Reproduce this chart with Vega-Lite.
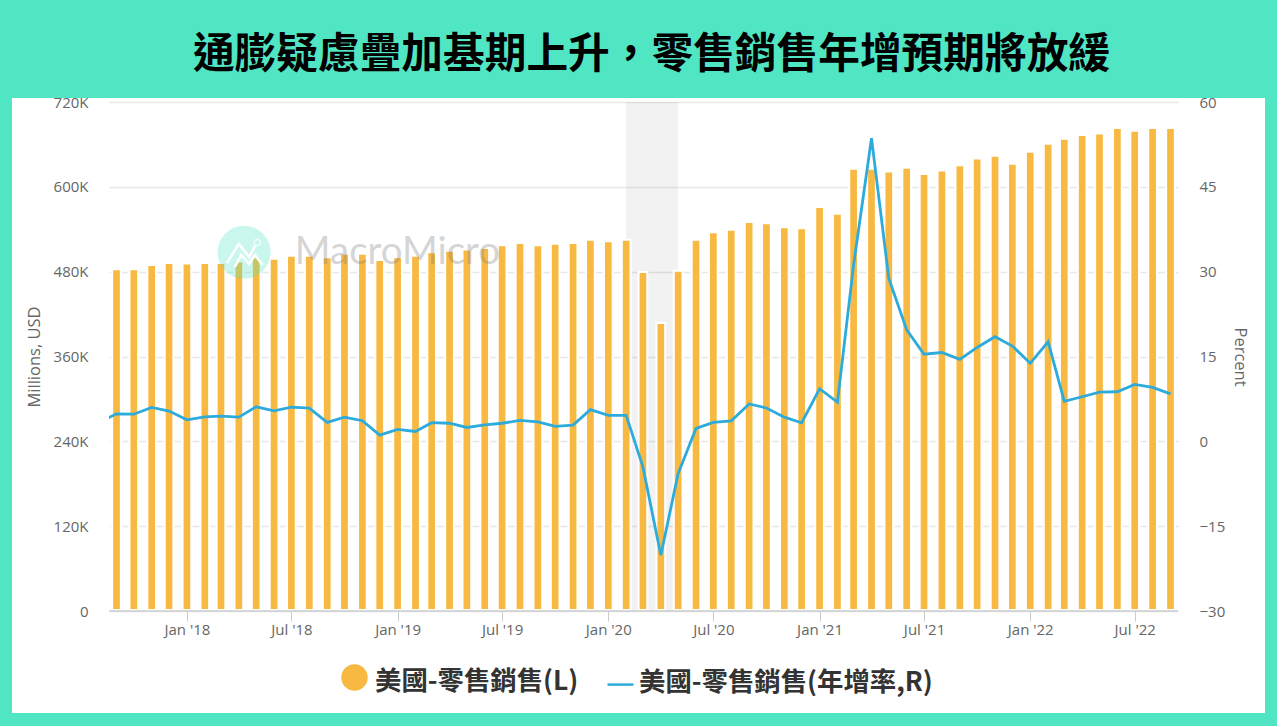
{
"$schema":"https://vega.github.io/schema/vega-lite/v6.json",
"autosize":{"type":"none"},
"width":1069,"height":509,
"padding":{"left":109,"top":102,"right":105,"bottom":116},
"background":"#ffffff",
"title":{"text":"通膨疑慮疊加基期上升，零售銷售年增預期將放緩","font":"Noto Sans CJK TC","fontSize":41.7,"fontWeight":"bold","color":"#000000","anchor":"middle","dx":8,"baseline":"alphabetic","offset":-110,"zindex":1},
"config":{"view":{"stroke":null},"scale":{"continuousPadding":0},"axis":{"labelFont":"Open Sans","titleFont":"Open Sans","labelFontSize":15,"titleFontSize":16.5,"labelColor":"#666666","titleColor":"#666666","titleFontWeight":"normal"}},
"datasets":{
"retail":[
{"date":"2017-08-01T00:00:00","yoy":3.3},
{"date":"2017-09-01T00:00:00","retail":482000,"yoy":4.87},
{"date":"2017-10-01T00:00:00","retail":482000,"yoy":4.8},
{"date":"2017-11-01T00:00:00","retail":488000,"yoy":6.0},
{"date":"2017-12-01T00:00:00","retail":491000,"yoy":5.35},
{"date":"2018-01-01T00:00:00","retail":490000,"yoy":3.8},
{"date":"2018-02-01T00:00:00","retail":491000,"yoy":4.34},
{"date":"2018-03-01T00:00:00","retail":491000,"yoy":4.46},
{"date":"2018-04-01T00:00:00","retail":493000,"yoy":4.28},
{"date":"2018-05-01T00:00:00","retail":499000,"yoy":6.1},
{"date":"2018-06-01T00:00:00","retail":497000,"yoy":5.4},
{"date":"2018-07-01T00:00:00","retail":501000,"yoy":6.05},
{"date":"2018-08-01T00:00:00","retail":501000,"yoy":5.88},
{"date":"2018-09-01T00:00:00","retail":499000,"yoy":3.34},
{"date":"2018-10-01T00:00:00","retail":504000,"yoy":4.28},
{"date":"2018-11-01T00:00:00","retail":504000,"yoy":3.64},
{"date":"2018-12-01T00:00:00","retail":495000,"yoy":1.1},
{"date":"2019-01-01T00:00:00","retail":499000,"yoy":2.1},
{"date":"2019-02-01T00:00:00","retail":501000,"yoy":1.75},
{"date":"2019-03-01T00:00:00","retail":506000,"yoy":3.3},
{"date":"2019-04-01T00:00:00","retail":508000,"yoy":3.2},
{"date":"2019-05-01T00:00:00","retail":510000,"yoy":2.45},
{"date":"2019-06-01T00:00:00","retail":512000,"yoy":2.9},
{"date":"2019-07-01T00:00:00","retail":516000,"yoy":3.2},
{"date":"2019-08-01T00:00:00","retail":519000,"yoy":3.7},
{"date":"2019-09-01T00:00:00","retail":516000,"yoy":3.45},
{"date":"2019-10-01T00:00:00","retail":518000,"yoy":2.63},
{"date":"2019-11-01T00:00:00","retail":519000,"yoy":2.87},
{"date":"2019-12-01T00:00:00","retail":523600,"yoy":5.6},
{"date":"2020-01-01T00:00:00","retail":521700,"yoy":4.6},
{"date":"2020-02-01T00:00:00","retail":523600,"yoy":4.6},
{"date":"2020-03-01T00:00:00","retail":478000,"yoy":-4.5},
{"date":"2020-04-01T00:00:00","retail":406000,"yoy":-20.15},
{"date":"2020-05-01T00:00:00","retail":480000,"yoy":-5.7},
{"date":"2020-06-01T00:00:00","retail":523600,"yoy":2.28},
{"date":"2020-07-01T00:00:00","retail":534500,"yoy":3.34},
{"date":"2020-08-01T00:00:00","retail":538000,"yoy":3.63},
{"date":"2020-09-01T00:00:00","retail":549000,"yoy":6.6},
{"date":"2020-10-01T00:00:00","retail":547000,"yoy":5.9},
{"date":"2020-11-01T00:00:00","retail":541500,"yoy":4.28},
{"date":"2020-12-01T00:00:00","retail":540000,"yoy":3.28},
{"date":"2021-01-01T00:00:00","retail":570000,"yoy":9.3},
{"date":"2021-02-01T00:00:00","retail":560400,"yoy":6.94},
{"date":"2021-03-01T00:00:00","retail":624000,"yoy":31.2},
{"date":"2021-04-01T00:00:00","retail":624000,"yoy":53.6},
{"date":"2021-05-01T00:00:00","retail":620300,"yoy":28.8},
{"date":"2021-06-01T00:00:00","retail":625500,"yoy":19.7},
{"date":"2021-07-01T00:00:00","retail":616600,"yoy":15.4},
{"date":"2021-08-01T00:00:00","retail":621800,"yoy":15.7},
{"date":"2021-09-01T00:00:00","retail":629000,"yoy":14.5},
{"date":"2021-10-01T00:00:00","retail":638800,"yoy":16.6},
{"date":"2021-11-01T00:00:00","retail":642600,"yoy":18.5},
{"date":"2021-12-01T00:00:00","retail":631200,"yoy":16.85},
{"date":"2022-01-01T00:00:00","retail":648200,"yoy":13.8},
{"date":"2022-02-01T00:00:00","retail":659500,"yoy":17.6},
{"date":"2022-03-01T00:00:00","retail":666600,"yoy":7.06},
{"date":"2022-04-01T00:00:00","retail":672000,"yoy":7.88},
{"date":"2022-05-01T00:00:00","retail":674000,"yoy":8.7},
{"date":"2022-06-01T00:00:00","retail":681700,"yoy":8.77},
{"date":"2022-07-01T00:00:00","retail":678000,"yoy":10.07},
{"date":"2022-08-01T00:00:00","retail":681700,"yoy":9.54},
{"date":"2022-09-01T00:00:00","retail":681700,"yoy":8.4}
],
"recession":[{"start":"2020-02-01T00:00:00","end":"2020-05-01T00:00:00"}],
"logo":[
{"date":"2018-03-11T00:00:00","value":492000,"part":"a"},
{"date":"2018-04-01T00:00:00","value":519300,"part":"a"},
{"date":"2018-04-19T00:00:00","value":500500,"part":"a"},
{"date":"2018-04-29T00:00:00","value":516500,"part":"a"},
{"date":"2018-03-25T00:00:00","value":486800,"part":"b"},
{"date":"2018-04-05T00:00:00","value":503700,"part":"b"},
{"date":"2018-04-19T00:00:00","value":491000,"part":"b"},
{"date":"2018-04-29T00:00:00","value":503700,"part":"b"},
{"date":"2018-05-12T00:00:00","value":489600,"part":"b"}
],
"disc":[{"date":"2018-04-10T00:00:00","value":507600}],
"ring":[{"date":"2018-05-03T00:00:00","value":521200}],
"brand":[{"date":"2018-07-07T00:00:00","value":491000,"name":"MacroMicro"}],
"frame":[{"part":"frame"}]
},
"resolve":{"scale":{"y":"independent"},"axis":{"y":"independent"}},
"layer":[
{"data":{"name":"recession"},"mark":{"type":"rect","color":"#000000","opacity":0.05},
 "encoding":{"x":{"field":"start","type":"temporal","scale":{"padding":0,"domain":[{"year":2017,"month":8,"date":19},{"year":2022,"month":9,"date":14}]},"axis":{"title":null}},"x2":{"field":"end"}}},
{"data":{"name":"retail"},"mark":{"type":"bar","size":8.7,"stroke":"#ffffff","strokeWidth":2,"yOffset":-1},
 "encoding":{
  "x":{"field":"date","type":"temporal","scale":{"padding":0,"domain":[{"year":2017,"month":8,"date":19},{"year":2022,"month":9,"date":14}]},
   "axis":{"title":null,"format":"%b '%y","labelOverlap":false,"grid":false,"domain":false,"tickColor":"#cccccc","tickSize":10,"labelPadding":1,"labelFlush":false,
    "values":[{"year":2018,"month":1,"date":1},{"year":2018,"month":7,"date":1},{"year":2019,"month":1,"date":1},{"year":2019,"month":7,"date":1},{"year":2020,"month":1,"date":1},{"year":2020,"month":7,"date":1},{"year":2021,"month":1,"date":1},{"year":2021,"month":7,"date":1},{"year":2022,"month":1,"date":1},{"year":2022,"month":7,"date":1}]}},
  "y":{"field":"retail","type":"quantitative","scale":{"domain":[0,720000],"nice":false},
   "axis":{"title":"Millions, USD","values":[0,120000,240000,360000,480000,600000,720000],"labelExpr":"datum.value==0?'0':(datum.value/1000)+'K'","domain":false,"ticks":false,"labelPadding":21,"grid":true,"gridColor":"#e8e8e8","gridWidth":1.5,"titlePadding":11}},
  "fill":{"datum":"美國-零售銷售(L)","scale":{"range":["#f7b941"]},
   "legend":{"orient":"none","legendX":232,"legendY":566,"title":null,"symbolType":"M -1,-0.3 a 1 1 0 1 0 2 0 a 1 1 0 1 0 -2 0 Z","symbolSize":700,"symbolStrokeWidth":0,"labelFont":"Noto Sans CJK TC","labelFontWeight":"bold","labelFontSize":26.4,"labelColor":"#333333","labelLimit":600,"labelOffset":7}}
 }},
{"data":{"name":"frame"},"mark":{"type":"rule","color":"#cccccc","strokeWidth":1.5},
 "encoding":{"y":{"datum":0,"type":"quantitative","scale":{"domain":[0,720000],"nice":false},"axis":null}}},
{"data":{"name":"retail"},"mark":{"type":"line","strokeWidth":2.8,"clip":true},
 "encoding":{
  "x":{"field":"date","type":"temporal","scale":{"padding":0,"domain":[{"year":2017,"month":8,"date":19},{"year":2022,"month":9,"date":14}]},"axis":{"title":null}},
  "y":{"field":"yoy","type":"quantitative","scale":{"domain":[-30,60],"nice":false},
   "axis":{"title":"Percent","orient":"right","values":[-30,-15,0,15,30,45,60],"domain":false,"ticks":false,"grid":false,"labelPadding":21,"titlePadding":7}},
  "stroke":{"datum":"美國-零售銷售(年增率,R)","scale":{"range":["#2dabdc"]},
   "legend":{"orient":"none","legendX":497,"legendY":566,"title":null,"symbolType":"M -1,0.16 L 1,0.16","symbolSize":676,"symbolStrokeWidth":2.5,"labelFont":"Noto Sans CJK TC","labelFontWeight":"bold","labelFontSize":26.4,"labelColor":"#333333","labelLimit":600,"labelOffset":4}}
 }},
{"data":{"name":"disc"},"mark":{"type":"point","filled":true,"size":2809,"color":"#50e6c3","opacity":0.3},
 "encoding":{"x":{"field":"date","type":"temporal","scale":{"padding":0,"domain":[{"year":2017,"month":8,"date":19},{"year":2022,"month":9,"date":14}]},"axis":{"title":null}},"y":{"field":"value","type":"quantitative","scale":{"domain":[0,720000],"nice":false},"axis":null}}},
{"data":{"name":"logo"},"mark":{"type":"line","color":"#ffffff","strokeWidth":2.5},
 "encoding":{"x":{"field":"date","type":"temporal","scale":{"padding":0,"domain":[{"year":2017,"month":8,"date":19},{"year":2022,"month":9,"date":14}]},"axis":{"title":null}},"y":{"field":"value","type":"quantitative","scale":{"domain":[0,720000],"nice":false},"axis":null},"detail":{"field":"part"}}},
{"data":{"name":"ring"},"mark":{"type":"point","size":40,"color":"#ffffff","strokeWidth":1.5},
 "encoding":{"x":{"field":"date","type":"temporal","scale":{"padding":0,"domain":[{"year":2017,"month":8,"date":19},{"year":2022,"month":9,"date":14}]},"axis":{"title":null}},"y":{"field":"value","type":"quantitative","scale":{"domain":[0,720000],"nice":false},"axis":null}}},
{"data":{"name":"brand"},"mark":{"type":"text","font":"Lato","fontSize":38.5,"align":"left","baseline":"alphabetic","color":"#777777","opacity":0.3},
 "encoding":{"x":{"field":"date","type":"temporal","scale":{"padding":0,"domain":[{"year":2017,"month":8,"date":19},{"year":2022,"month":9,"date":14}]},"axis":{"title":null}},"y":{"field":"value","type":"quantitative","scale":{"domain":[0,720000],"nice":false},"axis":null},"text":{"field":"name"}}},
{"data":{"name":"frame"},"mark":{"type":"rect","color":"#50e6c3"},"encoding":{"x":{"value":-109},"x2":{"value":1168},"y":{"value":-102},"y2":{"value":-4}}},
{"data":{"name":"frame"},"mark":{"type":"rect","color":"#50e6c3"},"encoding":{"x":{"value":-109},"x2":{"value":-97},"y":{"value":-102},"y2":{"value":624}}},
{"data":{"name":"frame"},"mark":{"type":"rect","color":"#50e6c3"},"encoding":{"x":{"value":1156},"x2":{"value":1168},"y":{"value":-102},"y2":{"value":624}}},
{"data":{"name":"frame"},"mark":{"type":"rect","color":"#50e6c3"},"encoding":{"x":{"value":-109},"x2":{"value":1168},"y":{"value":611},"y2":{"value":624}}}
]
}
